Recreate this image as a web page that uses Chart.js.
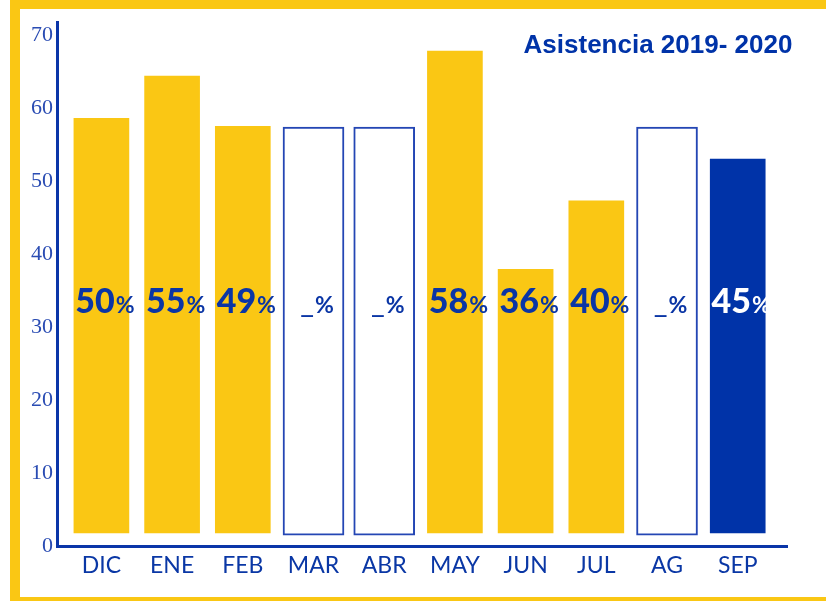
<!DOCTYPE html>
<html>
<head>
<meta charset="utf-8">
<script src="https://cdn.jsdelivr.net/npm/chart.js@4/dist/chart.umd.min.js"></script>
<style>
  html, body { margin: 0; padding: 0; background: #fff; overflow: hidden; width: 826px; height: 601px; }
  #frame { position: absolute; left: 10px; top: 0; width: 900px; height: 588px; border-style: solid; border-color: #FAC714; border-width: 9px 0 10px 10px; }
  #wrap { position: absolute; left: 0; top: 0; width: 826px; height: 601px; }
</style>
</head>
<body>
<div id="frame"></div>
<div id="wrap"><canvas id="c" width="826" height="601"></canvas></div>
<script>
// ---- data ----
const months = ["DIC", "ENE", "FEB", "MAR", "ABR", "MAY", "JUN", "JUL", "AG", "SEP"];
const filledValues = [58.6, 64.4, 57.5, null, null, 67.8, 37.9, 47.3, null, 53.0];
const emptyValues = [null, null, null, 57.4, 57.4, null, null, null, 57.4, null];
const percentLabels = ["50", "55", "49", "_", "_", "58", "36", "40", "_", "45"];
const yTicks = [0, 10, 20, 30, 40, 50, 60, 70];
const title = "Asistencia 2019- 2020";

const YELLOW = "#FAC714";
const BLUE = "#0033A8";
const filledColors = months.map((m, i) => i === months.length - 1 ? BLUE : YELLOW);
const labelColors = months.map((m, i) => i === months.length - 1 ? "#ffffff" : "#0a35a5");

const labelPlugin = {
  id: "pctLabels",
  afterDatasetsDraw(chart) {
    const ctx = chart.ctx;
    const x = chart.scales.x, y = chart.scales.y;
    const yy = y.getPixelForValue(31.9);
    ctx.save();
    ctx.textBaseline = "alphabetic";
    ctx.textAlign = "left";
    percentLabels.forEach((lab, i) => {
      const cx = x.getPixelForValue(i) + 3;
      const numFont = lab === "_" ? "normal 30px Lato" : "900 34px Lato";
      ctx.font = numFont;
      const w1 = ctx.measureText(lab).width;
      ctx.font = "bold 23px Lato";
      const w2 = ctx.measureText("%").width;
      const start = cx - (w1 + w2) / 2;
      ctx.fillStyle = labelColors[i];
      ctx.font = numFont;
      ctx.fillText(lab, start, yy);
      ctx.font = "bold 23px Lato";
      ctx.fillText("%", start + w1 + 1, yy);
    });
    // title
    ctx.font = "bold 26px 'Liberation Sans'";
    ctx.textAlign = "center";
    ctx.fillStyle = BLUE;
    ctx.fillText(title, 658, 53);
    ctx.restore();
  }
};

new Chart(document.getElementById("c"), {
  type: "bar",
  data: {
    datasets: [
      {
        data: filledValues.map((v, i) => ({ x: i, y: v })),
        backgroundColor: filledColors,
        borderWidth: 0,
        barThickness: 55,
        base: 1.78,
        grouped: false
      },
      {
        data: emptyValues.map((v, i) => ({ x: i, y: v })),
        backgroundColor: "#ffffff",
        borderColor: "#2446b4",
        borderWidth: 2,
        borderSkipped: false,
        barThickness: 61,
        base: 1.5,
        grouped: false
      }
    ]
  },
  options: {
    responsive: false,
    animation: false,
    layout: { padding: { left: 0, right: 39, top: 22, bottom: 0 } },
    plugins: { legend: { display: false }, tooltip: { enabled: false }, title: { display: false } },
    scales: {
      x: {
        type: "linear",
        offset: false,
        min: -0.628,
        max: 9.697,
        grid: { display: false, drawTicks: false, offset: false },
        border: { display: true, color: "#0a35a8", width: 3 },
        afterFit(s) { s.height = 55; },
        ticks: {
          stepSize: 1,
          includeBounds: false,
          autoSkip: false,
          maxRotation: 0,
          padding: 6,
          color: "#0a37a5",
          font: { family: "Lato", size: 23 },
          callback: (v) => months[v] !== undefined ? months[v] : ""
        }
      },
      y: {
        type: "linear",
        min: 0,
        max: 71.8,
        afterFit(s) { s.width = 57; },
        afterBuildTicks(s) { s.ticks = yTicks.map(v => ({ value: v })); },
        grid: { display: false, drawTicks: false },
        border: { display: true, color: "#0a35a8", width: 3 },
        ticks: {
          includeBounds: false,
          padding: 4,
          color: "#2a4cb3",
          font: { family: "Liberation Serif", size: 22 }
        }
      }
    }
  },
  plugins: [labelPlugin]
});
</script>
</body>
</html>
